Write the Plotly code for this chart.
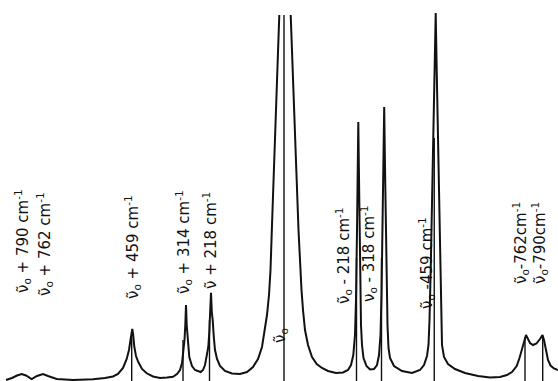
import plotly.graph_objects as go

# Recorder trace: chart position (arbitrary units) and intensity (arbitrary units)
trace_x = [1.2, 2.4, 3.4, 4.34, 5.2, 6.34, 7.4, 8.6, 9.6, 11.34, 14.6, 18.6, 21.0, 22.6, 23.6, 24.6,
           25.34, 25.8, 26.1, 26.3, 26.46, 26.64, 26.86, 27.2, 27.66, 28.4, 29.34, 30.6, 32.0, 33.4,
           34.6, 35.4, 36.0, 36.4, 36.66, 36.9, 37.06, 37.2, 37.34, 37.46, 37.66, 37.86, 38.4, 39.0,
           40.14, 40.6, 41.0, 41.4, 41.66, 41.86, 42.04, 42.2, 42.36, 42.54, 42.76, 43.0, 43.4, 44.0,
           45.0, 46.4, 48.0, 49.4, 50.6, 51.6, 52.4, 53.0, 53.4, 53.8, 54.1, 54.4, 54.8, 55.2, 55.6,
           55.86, None,
           58.14, 58.5, 58.9, 59.3, 59.7, 60.0, 60.3, 60.6, 61.0, 61.6, 62.4, 63.34, 64.4, 65.6, 67.2,
           68.6, 69.6, 70.2, 70.66, 71.0, 71.2, 71.4, 71.54, 71.66, 71.78, 71.9, 72.06, 72.2, 72.4,
           72.7, 73.3, 74.0, 74.8, 75.4, 75.8, 76.1, 76.3, 76.5, 76.66, 76.84, 77.0, 77.16, 77.34,
           77.5, 77.7, 78.0, 78.8, 80.4, 82.4, 84.0, 84.8, 85.4, 85.7, 85.9, 86.14, 86.4, 86.66,
           86.9, 87.14, 87.36, 87.6, 87.9, 88.14, 88.3, 88.4, 88.8, 89.6, 91.0, 93.0, 95.6, 98.0,
           100.0, 101.4, 102.4, 103.34, 103.9, 104.34, 104.7, 105.0, 105.2, 105.5, 106.0, 106.6,
           107.3, 108.0, 108.5, 108.8, 109.2, 109.6, 110.1, 110.8, 111.6]
trace_y = [-0.5, 0.0, 0.62, 1.0, 0.62, -0.25, 0.5, 1.0, 0.5, -0.25, -0.5, -0.32, 0.0, 0.38, 1.0, 2.5,
           4.75, 7.0, 9.5, 11.25, 12.25, 10.75, 7.82, 5.5, 4.0, 2.25, 1.18, 0.38, 0.0, 0.12,
           0.32, 1.0, 2.0, 3.75, 6.25, 9.5, 13.25, 18.25, 13.25, 10.75, 7.0, 5.25, 3.0, 2.0,
           1.5, 2.0, 3.25, 5.5, 7.75, 11.5, 16.5, 21.32, 16.5, 14.5, 10.25, 7.0, 4.75, 3.0,
           1.75, 1.12, 1.0, 1.5, 2.75, 4.75, 7.75, 12.0, 15.75, 20.75, 27.0, 38.25, 53.25, 68.25, 82.0,
           90.75, None,
           90.75, 79.5, 64.5, 50.75, 37.0, 28.25, 22.0, 17.0, 12.0, 8.25, 5.25, 3.5, 2.5, 1.75, 1.25,
           1.38, 2.0, 3.25, 5.75, 10.75, 19.5, 37.0, 52.0, 64.0, 52.0, 37.0, 22.0, 13.25, 8.25,
           5.0, 3.0, 2.12, 2.25, 3.25, 5.75, 10.75, 20.75, 35.75, 52.75, 67.75, 52.75, 37.0, 24.5,
           13.25, 7.5, 5.0, 3.0, 1.75, 1.25, 2.0, 3.25, 5.5, 8.25, 14.5, 27.0, 44.5, 60.75,
           75.75, 91.25, 75.75, 60.75, 44.5, 27.75, 14.5, 8.25, 5.25, 3.5, 2.25, 1.25, 0.5, 0.12,
           0.25, 0.75, 1.5, 3.0, 5.0, 7.0, 9.0, 10.25, 10.75, 10.0, 8.75, 8.25,
           8.62, 9.75, 10.75, 9.5, 6.75, 4.5, 3.12, 2.38, 2.0]

# Marker ticks drawn by the recorder under each line
tick_x = [26.34, 36.6, 41.9, 56.8, 71.3, 76.3, 86.85, 105.0, 108.54]
tick_top = [10.75, 9.5, 14.5, 90.75, 30.0, 30.0, 60.0, 10.25, 10.5]
tick_bottom = -0.75

# Line labels
label_text = [
    "ν̃<sub>o</sub> + 790 cm<sup>-1</sup>",
    "ν̃<sub>o</sub> + 762 cm<sup>-1</sup>",
    "ν̃<sub>o</sub> + 459 cm<sup>-1</sup>",
    "ν̃<sub>o</sub> + 314 cm<sup>-1</sup>",
    "ν̃ + 218 cm<sup>-1</sup>",
    "ν̃<sub>o</sub>",
    "ν̃<sub>o</sub> - 218 cm<sup>-1</sup>",
    "ν<sub>o</sub> - 318 cm<sup>-1</sup>",
    "ν̃<sub>o</sub> -459 cm<sup>-1</sup>",
    "ν̃<sub>o</sub>-762cm<sup>-1</sup>",
    "ν̃<sub>o</sub>-790cm<sup>-1</sup>",
]
label_x = [4.4, 8.8, 26.4, 36.6, 42.0, 56.0, 68.6, 73.6, 85.2, 104.0, 107.8]
label_y = [34.25, 33.5, 32.75, 34.0, 34.25, 10.5, 30.5, 31.0, 28.75, 33.75, 33.75]

fig = go.Figure()

tx, ty = [], []
for x, top in zip(tick_x, tick_top):
    tx += [x, x, None]
    ty += [tick_bottom, top, None]
fig.add_trace(go.Scatter(x=tx, y=ty, mode="lines", line=dict(color="#111", width=1.4),
                         hoverinfo="skip", showlegend=False))
fig.add_trace(go.Scatter(x=trace_x, y=trace_y, mode="lines", line=dict(color="#111", width=2),
                         connectgaps=False, showlegend=False))

for t, x, y in zip(label_text, label_x, label_y):
    fig.add_annotation(x=x, y=y, text=t, textangle=-90, showarrow=False,
                       font=dict(family="DejaVu Sans", size=15, color="#111"),
                       xanchor="center", yanchor="middle")

fig.update_layout(
    width=558, height=381,
    margin=dict(l=0, r=0, t=0, b=0),
    paper_bgcolor="white", plot_bgcolor="white",
    xaxis=dict(range=[0, 111.6], visible=False),
    yaxis=dict(range=[-0.75, 94.5], visible=False),
)
fig.write_html("out.html", config={"displayModeBar": False},
               post_script="document.body.style.margin='0';document.body.style.padding='0';")
